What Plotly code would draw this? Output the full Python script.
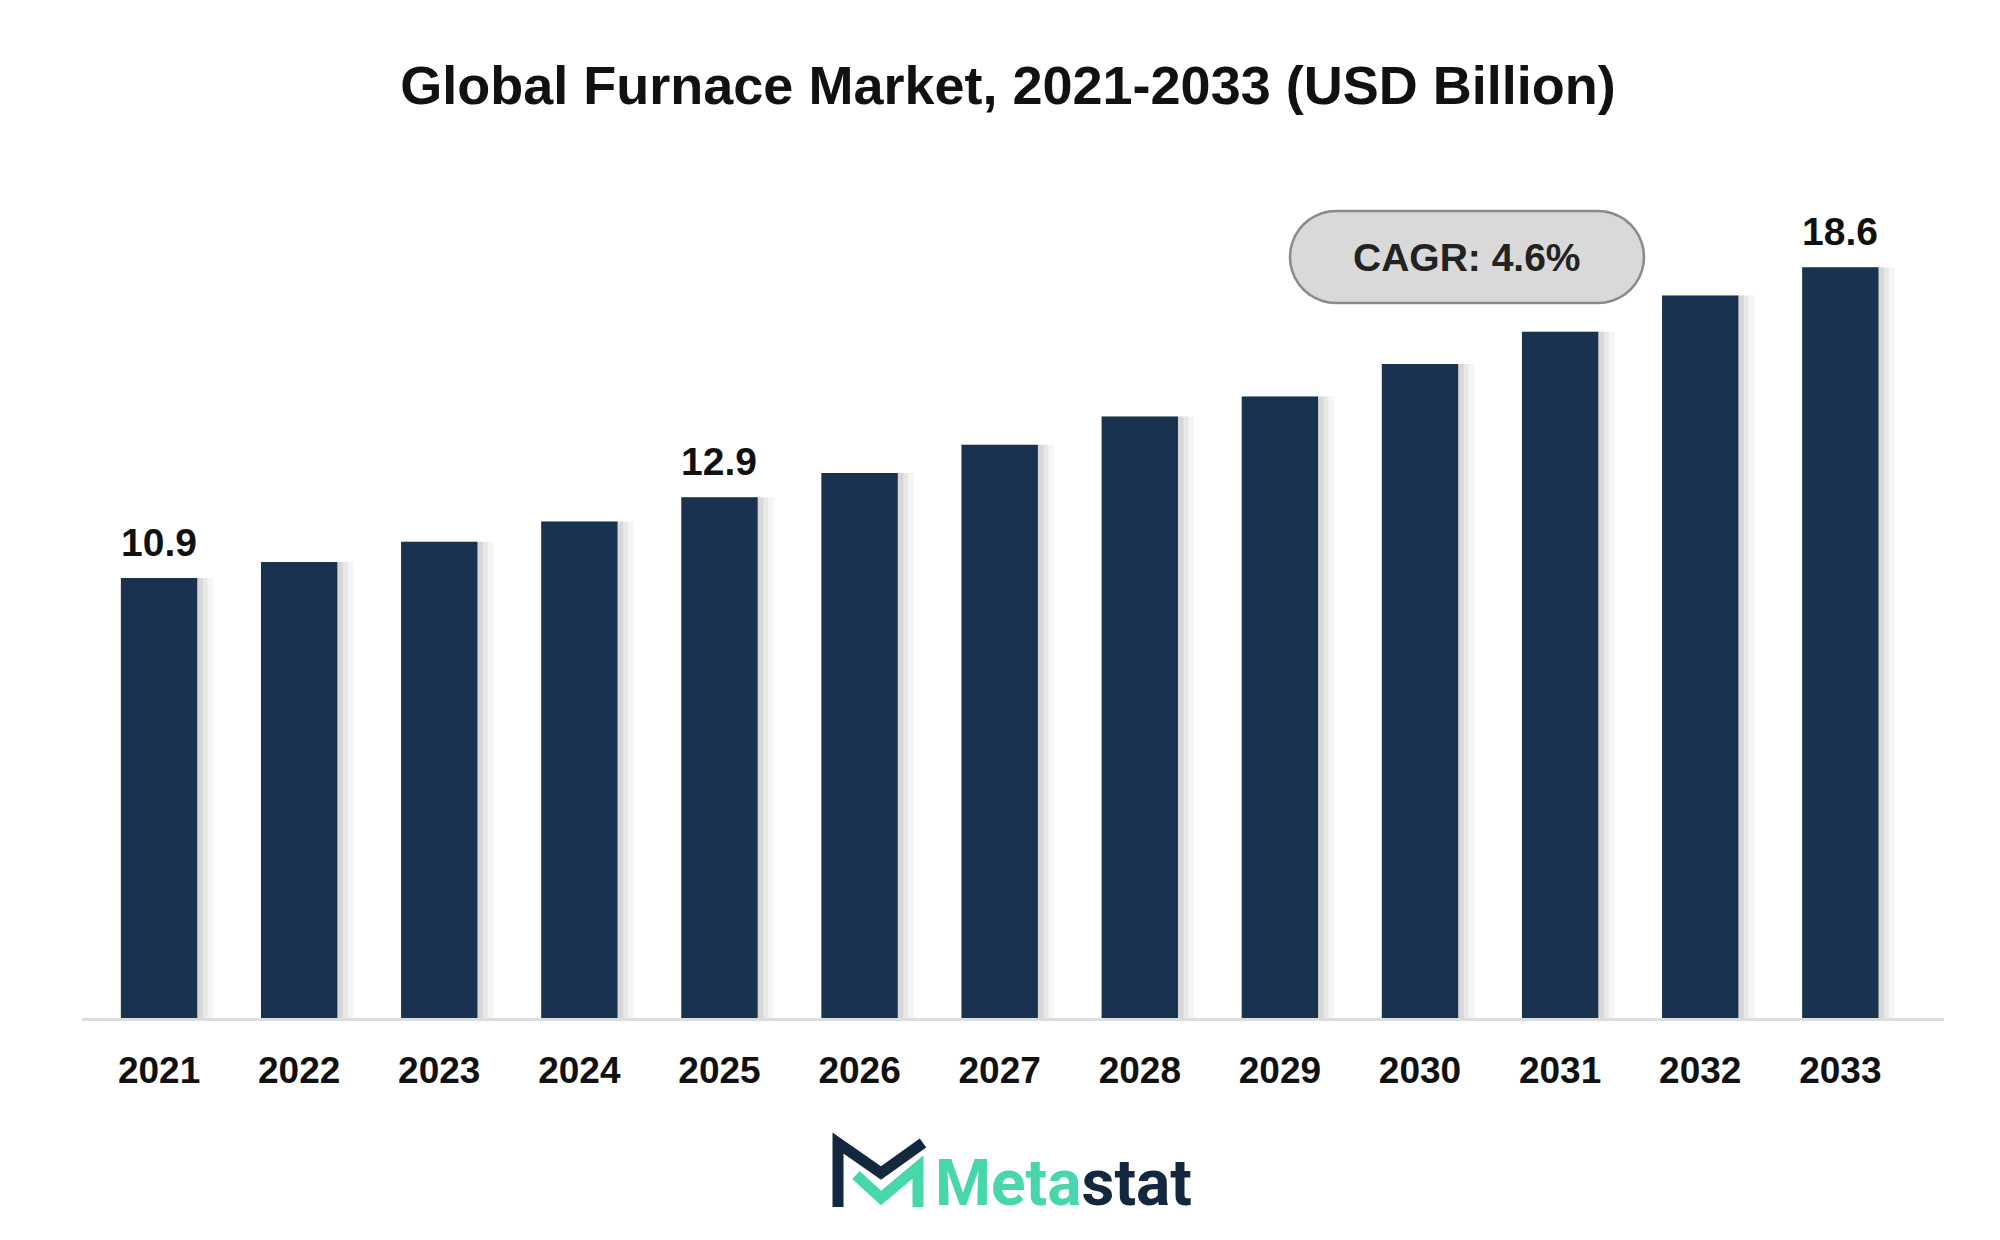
import plotly.graph_objects as go
import math

years = [str(y) for y in range(2021, 2034)]
values = [10.9, 11.3, 11.8, 12.3, 12.9, 13.5, 14.2, 14.9, 15.4, 16.2, 17.0, 17.9, 18.6]
labeled = {"2021": "10.9", "2025": "12.9", "2033": "18.6"}
cagr_text = "<b>CAGR: 4.6%</b>"

W, H = 2000, 1240
L, R, T, B = 74, 64, 122, 230
pw, ph = W - L - R, H - T - B

def px(x): return (x - L) / pw
def py(y): return (H - B - y) / ph

fig = go.Figure()
for w, a in [(0.66, 0.04), (0.62, 0.05), (0.585, 0.07)]:
    fig.add_trace(go.Bar(x=years, y=values, width=w, offset=-0.2725,
                         marker=dict(color=f"rgba(0,0,0,{a})", line=dict(width=0)),
                         hoverinfo="skip"))
fig.add_trace(go.Bar(x=years, y=values, width=0.545, offset=-0.2725,
                     marker=dict(color="#18324f", line=dict(width=0))))
for yr, t in labeled.items():
    i = years.index(yr)
    fig.add_annotation(x=i, y=values[i], text=f"<b>{t}</b>", showarrow=False,
                       xanchor="center", yanchor="bottom", yshift=12,
                       font=dict(size=39, color="#111", family="Liberation Sans"))

# CAGR pill
x0, x1, y0, y1 = 1282, 1636, 203, 295
r = (y1 - y0) / 2
pts = []
for i in range(21):
    a = -math.pi/2 + math.pi * i / 20
    pts.append((x1 - r + r*math.cos(a), (y0+y1)/2 + r*math.sin(a)))
for i in range(21):
    a = math.pi/2 + math.pi * i / 20
    pts.append((x0 + r + r*math.cos(a), (y0+y1)/2 + r*math.sin(a)))
path = "M " + " L ".join(f"{px(a):.5f},{py(b):.5f}" for a, b in pts) + " Z"
shapes = [dict(type="path", xref="paper", yref="paper", path=path,
               fillcolor="#d9d9d9", line=dict(color="#8a8a8a", width=2.5))]
fig.add_annotation(xref="paper", yref="paper", x=px((x0+x1)/2), y=py((y0+y1)/2),
                   xanchor="center", yanchor="middle", text=cagr_text, showarrow=False,
                   font=dict(size=39, color="#222", family="Liberation Sans"))

def seg(pts_, color):
    p = "M " + " L ".join(f"{px(a):.5f},{py(b):.5f}" for a, b in pts_)
    shapes.append(dict(type="path", xref="paper", yref="paper", path=p,
                       line=dict(color=color, width=11)))
seg([(830, 1199), (830, 1135), (873, 1165), (915, 1135)], "#13273f")
seg([(848, 1167), (873, 1190), (910, 1159), (910, 1199)], "#48d6ac")
fig.add_annotation(xref="paper", yref="paper", x=px(925), y=py(1175),
                   xanchor="left", yanchor="middle",
                   text="<b><span style='color:#48d6ac'>Meta</span><span style='color:#13273f'>stat</span></b>",
                   showarrow=False, font=dict(size=64, family="Roboto"))

fig.update_layout(
    width=W, height=H, margin=dict(l=L, r=R, t=T, b=B),
    paper_bgcolor="white", plot_bgcolor="white", showlegend=False,
    barmode="overlay", shapes=shapes,
    title=dict(text="<b>Global Furnace Market, 2021-2033 (USD Billion)</b>", x=0.5, xanchor="center",
               y=1 - 77/H, yanchor="middle", font=dict(size=54, color="#111", family="Liberation Sans")),
    xaxis=dict(type="category", range=[-0.55, 12.74], showgrid=False, showline=True,
               linecolor="#dddddd", linewidth=3, ticks="", ticklabelstandoff=18,
               tickprefix="<b>", ticksuffix="</b>",
               tickfont=dict(size=37, color="#111", family="Liberation Sans")),
    yaxis=dict(range=[0, 22], visible=False),
)
fig.write_html("out.html")
